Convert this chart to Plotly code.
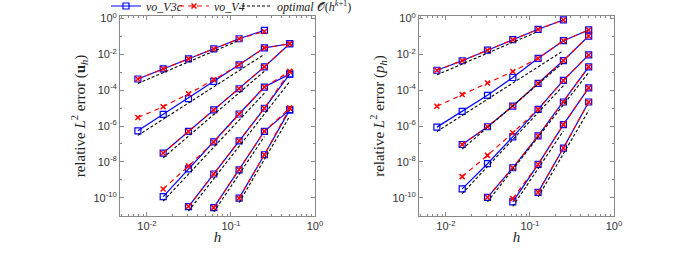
import plotly.graph_objects as go

#%%# data
h = [1/128, 1/64, 1/32, 1/16, 1/8, 1/4, 1/2]
k_labels = [1, 2, 3, 4, 5, 6, 7]

# velocity error, vo_V3c
u_v3c = [
    [4.2e-4, 1.55e-3, 5.6e-3, 2.0e-2, 7.4e-2, 0.22, None],
    [5.4e-7, 4.5e-6, 3.4e-5, 3.1e-4, 2.6e-3, 2.3e-2, 3.9e-2],
    [None, 3.1e-8, 5.0e-7, 7.9e-6, 1.2e-4, 2.0e-3, 3.9e-2],
    [None, 1.15e-10, 4.1e-9, 1.3e-7, 4.7e-6, 1.5e-4, 7.9e-4],
    [None, None, 3.2e-11, 2.1e-9, 1.5e-7, 9.8e-6, 7.9e-4],
    [None, None, None, 2.8e-11, 3.6e-9, 5.1e-7, 8.0e-6],
    [None, None, None, None, 9.5e-11, 2.5e-8, 8.0e-6],
]
# velocity error, vo_V4
u_v4 = [
    [4.2e-4, 1.55e-3, 5.6e-3, 2.0e-2, 7.4e-2, 0.19, None],
    [3.0e-6, 1.2e-5, 6.3e-5, 3.8e-4, 2.6e-3, 2.3e-2, 3.9e-2],
    [None, 3.1e-8, 5.0e-7, 7.9e-6, 1.2e-4, 2.0e-3, 3.9e-2],
    [None, 3.1e-10, 5.8e-9, 1.3e-7, 4.7e-6, 1.5e-4, 1.1e-3],
    [None, None, 3.2e-11, 2.1e-9, 1.5e-7, 9.8e-6, 1.1e-3],
    [None, None, None, 2.8e-11, 3.6e-9, 5.1e-7, 1.0e-5],
    [None, None, None, None, 9.5e-11, 2.5e-8, 1.0e-5],
]
# pressure error, vo_V3c
p_v3c = [
    [1.3e-3, 4.4e-3, 1.7e-2, 6.6e-2, 0.25, 0.83, None],
    [8.7e-7, 6.6e-6, 5.2e-5, 5.1e-4, 6.0e-3, 5.8e-2, 0.23],
    [None, 9.3e-8, 9.1e-7, 1.3e-5, 2.4e-4, 4.5e-3, 0.105],
    [None, 3.1e-10, 7.9e-9, 2.5e-7, 8.5e-6, 3.5e-4, 9.3e-3],
    [None, None, 1.05e-10, 4.7e-9, 2.8e-7, 2.2e-5, 2.0e-3],
    [None, None, None, 5.9e-11, 7.2e-9, 1.2e-6, 1.35e-4],
    [None, None, None, None, 2.0e-10, 5.9e-8, 2.2e-5],
]
# pressure error, vo_V4
p_v4 = [
    [1.3e-3, 4.4e-3, 1.7e-2, 6.6e-2, 0.25, 0.83, None],
    [1.26e-5, 5.8e-5, 2.5e-4, 1.1e-3, 6.0e-3, 5.8e-2, 0.23],
    [None, 9.3e-8, 9.1e-7, 1.3e-5, 2.4e-4, 4.5e-3, 0.105],
    [None, 1.5e-9, 2.3e-8, 4.2e-7, 8.5e-6, 3.5e-4, 9.3e-3],
    [None, None, 1.05e-10, 4.7e-9, 2.8e-7, 2.2e-5, 2.0e-3],
    [None, None, None, 8.9e-11, 7.2e-9, 1.2e-6, 1.35e-4],
    [None, None, None, None, 2.0e-10, 5.9e-8, 2.2e-5],
]

# optimal-rate guide lines: [h_start, h_end], [err_start, err_end]
ref_h = [
    [1/128, 1/8], [1/128, 1/4], [1/64, 1/4], [1/64, 1/4],
    [1/32, 1/2], [1/16, 1/4], [1/8, 1/2],
]
u_ref = [
    [2.4e-4, 6.0e-2], [3.0e-7, 1.0e-2], [1.7e-8, 1.15e-3], [6.5e-11, 6.8e-5],
    [1.8e-11, 3.0e-4], [1.6e-11, 2.6e-7], [5.4e-11, 3.5e-6],
]
p_ref = [
    [7.2e-4, 0.19], [4.9e-7, 1.6e-2], [5.2e-8, 3.5e-3], [1.7e-10, 1.8e-4],
    [5.9e-11, 9.8e-4], [3.3e-11, 5.4e-7], [1.1e-10, 7.4e-6],
]

x_tickvals = [1e-2, 1e-1, 1]
x_ticktext = ['10<sup>-2</sup>', '10<sup>-1</sup>', '10<sup>0</sup>']
y_tickvals = [1e-10, 1e-8, 1e-6, 1e-4, 1e-2, 1]
y_ticktext = ['10<sup>-10</sup>', '10<sup>-8</sup>', '10<sup>-6</sup>',
              '10<sup>-4</sup>', '10<sup>-2</sup>', '10<sup>0</sup>']

#%%# figure
BLUE = 'rgb(0,0,255)'
RED = 'rgb(255,0,0)'
SERIF = 'Liberation Serif'

fig = go.Figure()

def add_panel(fig, v3c, v4, ref, xa, ya, legend):
    for i in range(len(v3c)):
        fig.add_trace(go.Scatter(
            x=h, y=v3c[i], xaxis=xa, yaxis=ya, mode='lines+markers',
            line=dict(color=BLUE, width=1.2),
            marker=dict(symbol='square-open', size=6, color=BLUE, line=dict(width=1.2)),
            name='<i>vo_V3c</i>', legend='legend',
            showlegend=legend and i == 0))
    for i in range(len(v4)):
        fig.add_trace(go.Scatter(
            x=h, y=v4[i], xaxis=xa, yaxis=ya, mode='lines+markers',
            line=dict(color=RED, width=1.2, dash='5px,4px'),
            marker=dict(symbol='x-thin-open', size=5, color=RED, line=dict(width=1.5, color=RED)),
            name='<i>vo_V4</i>', legend='legend2',
            showlegend=legend and i == 0))
    for i in range(len(ref)):
        fig.add_trace(go.Scatter(
            x=ref_h[i], y=ref[i], xaxis=xa, yaxis=ya, mode='lines',
            line=dict(color='black', width=1.1, dash='3px,2px'),
            name='<i>optimal</i> 𝒪(<i>h</i><sup><i>k</i>+1</sup>)', legend='legend3',
            showlegend=legend and i == 0))

add_panel(fig, u_v3c, u_v4, u_ref, 'x', 'y', True)
add_panel(fig, p_v3c, p_v4, p_ref, 'x2', 'y2', False)

xax = dict(
    type='log', range=[-2.32, 0], tickmode='array',
    tickvals=x_tickvals, ticktext=x_ticktext,
    ticks='inside', ticklen=4, tickcolor='#888', showline=True, linecolor='#888',
    linewidth=1, mirror='allticks', showgrid=False, zeroline=False,
    tickfont=dict(family='Liberation Sans', size=11, color='#333'),
    minor=dict(ticks='inside', ticklen=2, tickcolor='#888',
               tickvals=[m * 10.0**e for e in (-3, -2, -1) for m in range(2, 10)]),
    title=dict(text='<i>h</i>', font=dict(family=SERIF, size=15, color='#222'), standoff=0),
)
yax = dict(
    type='log', range=[-11.02, 0.14], tickmode='array',
    tickvals=y_tickvals, ticktext=y_ticktext,
    ticks='inside', ticklen=4, tickcolor='#888', showline=True, linecolor='#888',
    linewidth=1, mirror='allticks', showgrid=False, zeroline=False,
    tickfont=dict(family='Liberation Sans', size=11, color='#333'),
    minor=dict(ticks='inside', ticklen=2, tickcolor='#888',
               tickvals=[1e-11, 1e-9, 1e-7, 1e-5, 1e-3, 1e-1]),
)

leg = dict(orientation='h', xref='container', xanchor='left',
           yref='container', y=1 - 6/254, yanchor='middle',
           font=dict(family=SERIF, size=12, color='#222'),
           bgcolor='rgba(0,0,0,0)', itemwidth=30)

fig.update_layout(
    width=680, height=254,
    margin=dict(l=120, r=66, t=16, b=38, autoexpand=False),
    paper_bgcolor='white', plot_bgcolor='white',
    xaxis=dict(xax, domain=[0, 195/494], anchor='y'),
    yaxis=dict(yax, domain=[0, 1], anchor='x',
               title=dict(text='relative <i>L</i><sup>2</sup> error (<b>u</b><sub><i>h</i></sub>)',
                          font=dict(family=SERIF, size=15, color='#222'), standoff=4)),
    xaxis2=dict(xax, domain=[299/494, 1], anchor='y2'),
    yaxis2=dict(yax, domain=[0, 1], anchor='x2',
                title=dict(text='relative <i>L</i><sup>2</sup> error (<i>p<sub>h</sub></i>)',
                           font=dict(family=SERIF, size=15, color='#222'), standoff=4)),
    showlegend=True,
    legend=dict(leg, x=106/680),
    legend2=dict(leg, x=174/680),
    legend3=dict(leg, x=237/680),
)

# page body has a default 8px margin; drop it so the figure sits at the top-left
fig.write_html("out.html", config={'displayModeBar': False},
               post_script="document.body.style.margin='0px';")
